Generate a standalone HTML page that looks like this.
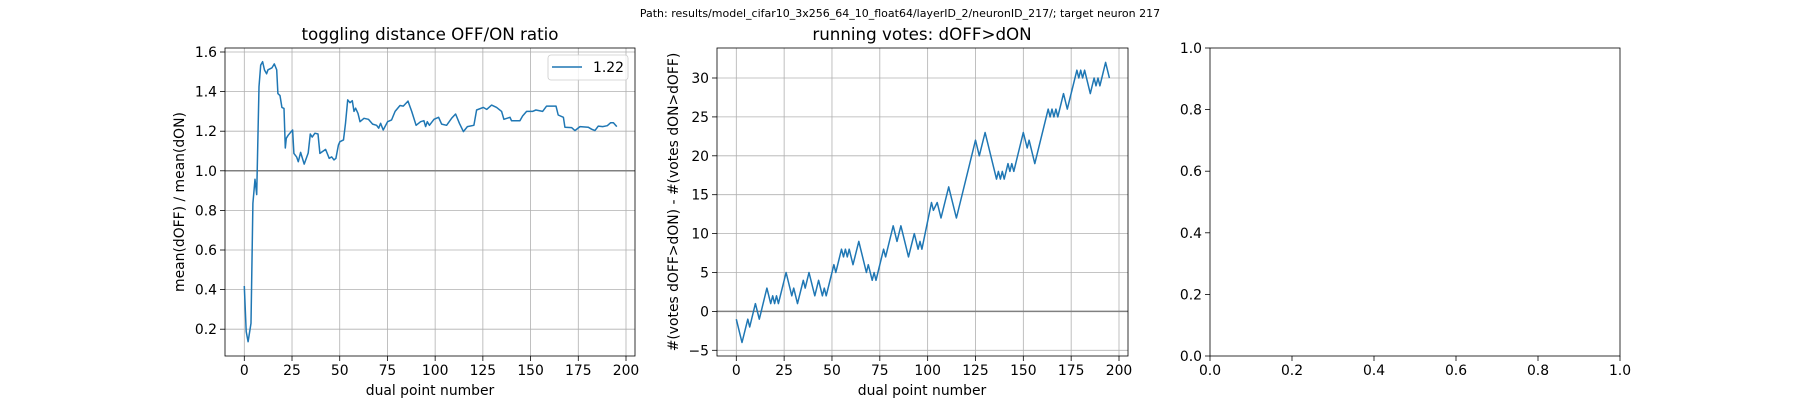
<!DOCTYPE html>
<html><head><meta charset="utf-8"><style>
html,body{margin:0;padding:0;background:#fff;}
svg{display:block;font-family:"DejaVu Sans","Liberation Sans",sans-serif;}
</style></head><body>
<svg id="fig" width="1800" height="400" viewBox="0 0 1800 400" xmlns="http://www.w3.org/2000/svg">
<text x="900" y="17" font-size="11" text-anchor="middle">Path: results/model_cifar10_3x256_64_10_float64/layerID_2/neuronID_217/; target neuron 217</text>
</svg>
<script>
// ---- data: ratio chart ----
const ratioX = [0,1,2,3.5,4.5,5.6,6.5,7.7,8.6,9.6,10.6,11.7,12.4,14.5,15.7,17,17.6,18.7,19.7,20.8,21.5,22,23,25.3,26,27.4,28.3,29.5,31.4,33.5,34.6,35.6,37,38.6,39.6,42.6,44.5,45.8,47,48,49.3,50.1,52,53,54.2,55.4,56.6,57.5,58.3,59.6,60.6,62.7,65,67.2,69.3,70.4,71.4,72.8,75.1,77.2,79,81.6,83.3,85.8,87.7,90,92.4,94.1,95,95.9,97,99.4,101.8,103.4,106,108.6,110.7,112.7,114.8,116.9,120.3,121.7,125.2,127,129.6,132.2,134.8,136,139.2,140,144.4,145.8,147.9,151,152.8,156.3,158.4,163.3,164.5,167.2,168,171.5,173.2,175.9,180.2,182,183.7,185.5,187.8,190.2,192,193.4,195.2];
const ratioY = [0.418,0.188,0.137,0.23,0.836,0.957,0.88,1.425,1.534,1.551,1.509,1.49,1.51,1.52,1.54,1.51,1.39,1.38,1.32,1.315,1.115,1.164,1.18,1.206,1.088,1.07,1.046,1.093,1.034,1.09,1.186,1.17,1.19,1.186,1.088,1.108,1.063,1.07,1.055,1.063,1.13,1.147,1.156,1.24,1.358,1.344,1.354,1.30,1.316,1.29,1.248,1.265,1.26,1.236,1.23,1.215,1.24,1.206,1.248,1.257,1.30,1.33,1.327,1.352,1.30,1.23,1.248,1.253,1.223,1.248,1.23,1.26,1.27,1.236,1.23,1.265,1.287,1.24,1.198,1.223,1.23,1.307,1.32,1.31,1.332,1.32,1.30,1.26,1.27,1.253,1.253,1.277,1.30,1.30,1.307,1.30,1.327,1.327,1.282,1.27,1.22,1.218,1.203,1.223,1.22,1.21,1.203,1.226,1.223,1.228,1.243,1.243,1.223];
const ratioXTicks = [0,25,50,75,100,125,150,175,200];
const ratioYTicks = [0.2,0.4,0.6,0.8,1.0,1.2,1.4,1.6];
// ---- data: votes chart ----
const votesX = [0,3,6,7,10,12,16,18,19,20,21,22,26,29,30,32,35,36,38,41,43,45,46,47,51,52,55,56,57,58,59,61,64,68,69,71,72,73,77,78,82,84,86,90,93,95,96,97,102,103,105,107,111,115,125,127,130,136,137,138,139,140,142,143,144,145,150,152,153,156,163,164,165,166,167,168,171,173,178,179,180,181,182,185,187,188,189,190,193,195];
const votesY = [-1,-4,-1,-2,1,-1,3,1,2,1,2,1,5,2,3,1,4,3,5,2,4,2,3,2,6,5,8,7,8,7,8,6,9,5,6,4,5,4,8,7,11,9,11,7,10,8,9,8,14,13,14,12,16,12,22,20,23,17,18,17,18,17,19,18,19,18,23,21,22,19,26,25,26,25,26,25,28,26,31,30,31,30,31,28,30,29,30,29,32,30];
const votesXTicks = [0,25,50,75,100,125,150,175,200];
const votesYTicks = [-5,0,5,10,15,20,25,30];
// ---- empty axes ----
const emptyTicks = [0,0.2,0.4,0.6,0.8,1.0];

const NS="http://www.w3.org/2000/svg";
const svg=document.getElementById('fig');
function mk(tag,attrs,parent){const e=document.createElementNS(NS,tag);for(const k in attrs)e.setAttribute(k,attrs[k]);(parent||svg).appendChild(e);return e;}
function fmt(v,d){return (v<0?'\u2212':'')+Math.abs(v).toFixed(d);}

function axes(cfg){
  const g=mk('g',{});
  
  
  const {L,R,T,B}=cfg;
  const X=cfg.x, Y=cfg.y;
  if(cfg.grid){
    cfg.xt.forEach(v=>{const l=mk('line',{x1:X(v),x2:X(v),y1:T,y2:B,stroke:'#b0b0b0','stroke-width':0.8},g);
      });
    cfg.yt.forEach(v=>{const l=mk('line',{x1:L,x2:R,y1:Y(v),y2:Y(v),stroke:'#b0b0b0','stroke-width':0.8},g);
      });
  }
  cfg.xt.forEach(v=>{mk('line',{x1:X(v),x2:X(v),y1:B,y2:B+5,stroke:'#000','stroke-width':0.8},g);
    const t=mk('text',{x:X(v),y:B+19,'font-size':13.9,'text-anchor':'middle'},g);t.textContent=fmt(v,cfg.xd);
    });
  cfg.yt.forEach(v=>{mk('line',{x1:L-5,x2:L,y1:Y(v),y2:Y(v),stroke:'#000','stroke-width':0.8},g);
    const t=mk('text',{x:L-8,y:Y(v)+5,'font-size':13.9,'text-anchor':'end'},g);t.textContent=fmt(v,cfg.yd);
    });
  return g;
}
function frame(g,L,R,T,B){const r=mk('rect',{x:L,y:T,width:R-L,height:B-T,fill:'none',stroke:'#000','stroke-width':0.8},g);
  }
function line(g,xs,ys,X,Y,L,R,T,B,name){
  const cid='c'+name;const cp=mk('clipPath',{id:cid},g);mk('rect',{x:L,y:T,width:R-L,height:B-T},cp);
  const p=mk('polyline',{points:xs.map((v,i)=>X(v).toFixed(1)+','+Y(ys[i]).toFixed(1)).join(' '),fill:'none',stroke:'#1f77b4','stroke-width':1.5,'stroke-linejoin':'round','clip-path':'url(#'+cid+')'},g);
  
}
function title(txt,x,y,name){const t=mk('text',{x:x,y:y,'font-size':16.7,'text-anchor':'middle'});t.textContent=txt;
  }
function label(txt,x,y,rot,name){const t=mk('text',{x:x,y:y,'font-size':13.9,'text-anchor':'middle',transform:rot?'rotate(-90 '+x+' '+y+')':''});t.textContent=txt;
  }

// Chart 1
{const L=225,R=635,T=48,B=356;
 const X=v=>244.3+v*1.9085, Y=v=>52+(1.6-v)*198;
 const g=axes({name:'ratio-chart',L,R,T,B,x:X,y:Y,xt:ratioXTicks,yt:ratioYTicks,xd:0,yd:1,grid:true});
 const h=mk('line',{x1:L,x2:R,y1:Y(1),y2:Y(1),stroke:'#808080','stroke-width':1.5},g);
 
 line(g,ratioX,ratioY,X,Y,L,R,T,B,'ratio-line');
 frame(g,L,R,T,B);
 const lg=mk('g',{},g);
 mk('rect',{x:548,y:55,width:80,height:25,rx:3,fill:'#fff','fill-opacity':0.8,stroke:'#cccccc','stroke-width':0.8},lg);
 mk('line',{x1:552,x2:582,y1:67,y2:67,stroke:'#1f77b4','stroke-width':1.5},lg);
 const lt=mk('text',{x:593,y:72,'font-size':13.9},lg);lt.textContent='1.22';
 
 title('toggling distance OFF/ON ratio',430,40,'ratio-chart-title');
 label('dual point number',430,395,false,'ratio-x-axis-title');
 label('mean(dOFF) / mean(dON)',184,202,true,'ratio-y-axis-title');
}
// Chart 2
{const L=717,R=1128,T=48,B=356;
 const X=v=>736.3+v*1.9135, Y=v=>78+(30-v)*7.78;
 const g=axes({name:'votes-chart',L,R,T,B,x:X,y:Y,xt:votesXTicks,yt:votesYTicks,xd:0,yd:0,grid:true});
 const h=mk('line',{x1:L,x2:R,y1:Y(0),y2:Y(0),stroke:'#808080','stroke-width':1.5},g);
 
 line(g,votesX,votesY,X,Y,L,R,T,B,'votes-line');
 frame(g,L,R,T,B);
 title('running votes: dOFF>dON',922,40,'votes-chart-title');
 label('dual point number',922,395,false,'votes-x-axis-title');
 label('#(votes dOFF>dON) - #(votes dON>dOFF)',678,202,true,'votes-y-axis-title');
}
// Chart 3 (empty)
{const L=1210,R=1620,T=48,B=356;
 const X=v=>L+v*(R-L), Y=v=>B-v*(B-T);
 const g=axes({name:'empty-chart',L,R,T,B,x:X,y:Y,xt:emptyTicks,yt:emptyTicks,xd:1,yd:1,grid:false});
 frame(g,L,R,T,B);
}
</script>
</body></html>
